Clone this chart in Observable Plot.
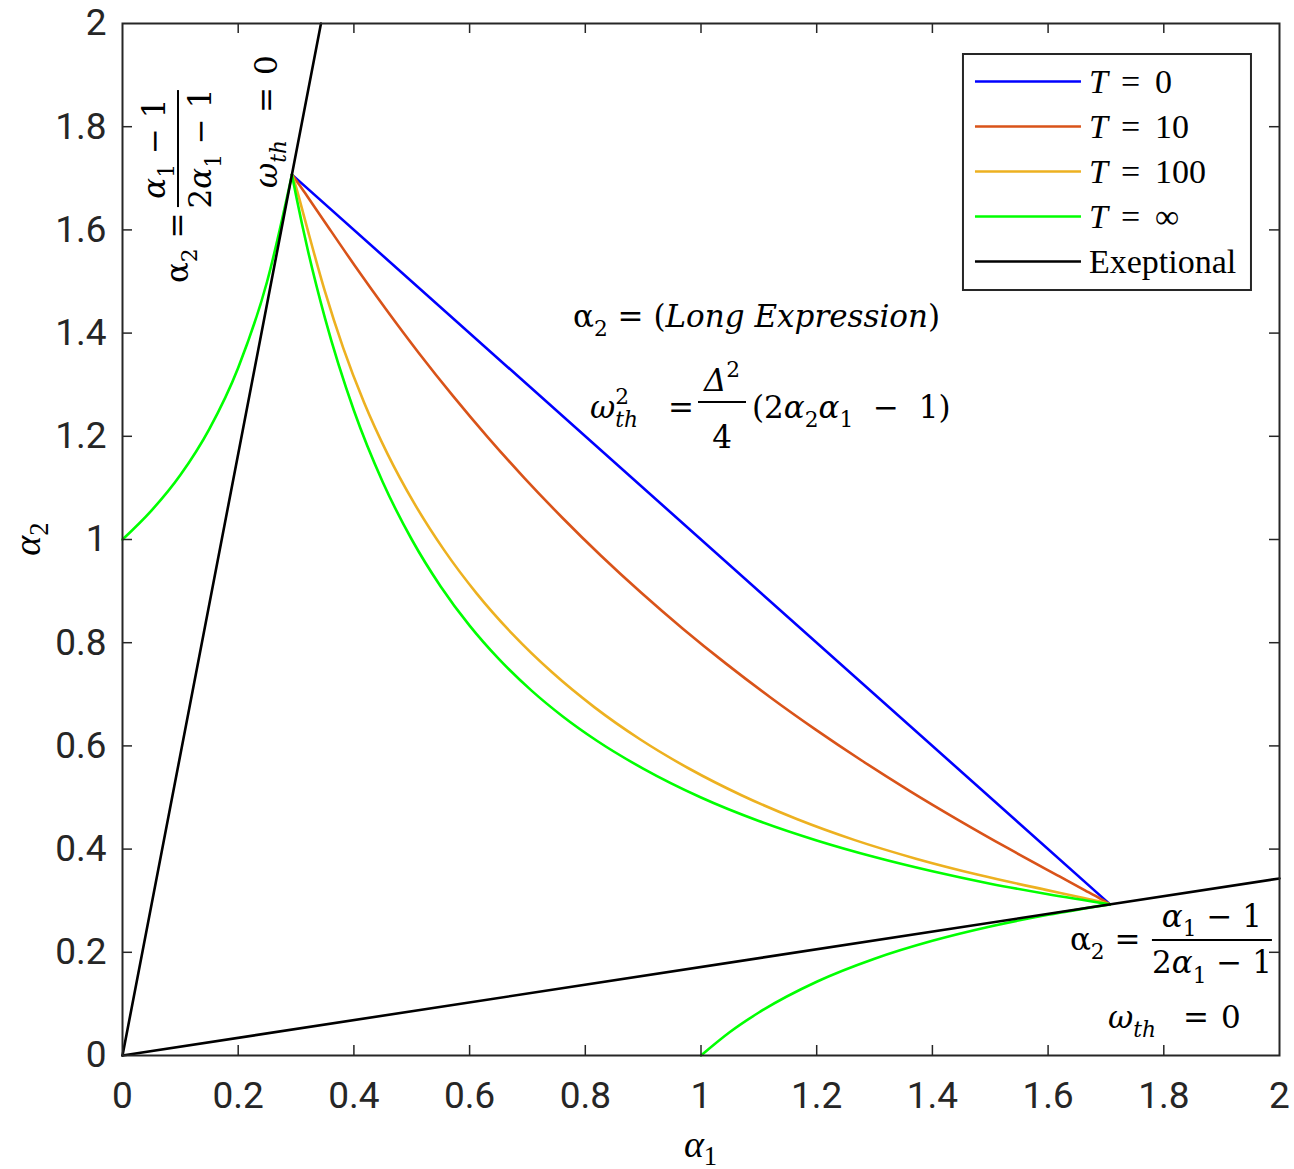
<!DOCTYPE html>
<html>
<head>
<meta charset="utf-8">
<script src="https://cdn.jsdelivr.net/npm/d3@7"></script>
<script src="https://cdn.jsdelivr.net/npm/@observablehq/plot@0.6"></script>
<style>
  body { margin: 0; background: #fff; }
  svg { display: block; }
</style>
</head>
<body>
<div id="chart"></div>
<script>
// ---- data: (α1, α2) samples of each boundary curve ----
const seriesNames  = ["T = 0", "T = 10", "T = 100", "T = ∞", "Exeptional"];
const seriesColors = ["#0000ff", "#d95319", "#edb120", "#00ff00", "#000000"];

const t0A1 = [0.2929, 1.7071];
const t0A2 = [1.7071, 0.2929];

const t10A1 = [0.2929, 0.3040, 0.3202, 0.3470, 0.4007, 0.4558, 0.5125, 0.5712, 0.6320, 0.6948, 0.7599, 0.8272, 0.8968,
               0.9686, 1.0427, 1.1190, 1.1976, 1.2784, 1.3611, 1.4458, 1.5321, 1.6198, 1.6638, 1.6900, 1.7071];
const t10A2 = [1.7071, 1.6900, 1.6638, 1.6198, 1.5321, 1.4458, 1.3611, 1.2784, 1.1976, 1.1190, 1.0427, 0.9686, 0.8968,
               0.8272, 0.7599, 0.6948, 0.6320, 0.5712, 0.5125, 0.4558, 0.4007, 0.3470, 0.3202, 0.3040, 0.2929];

const t100A1 = [0.2929, 0.2994, 0.3078, 0.3215, 0.3498, 0.3815, 0.4174, 0.4583, 0.5044, 0.5557, 0.6124, 0.6747, 0.7426,
                0.8161, 0.8952, 0.9799, 1.0700, 1.1655, 1.2660, 1.3715, 1.4812, 1.5943, 1.6514, 1.6854, 1.7071];
const t100A2 = [1.7071, 1.6854, 1.6514, 1.5943, 1.4812, 1.3715, 1.2660, 1.1655, 1.0700, 0.9799, 0.8952, 0.8161, 0.7426,
                0.6747, 0.6124, 0.5557, 0.5044, 0.4583, 0.4174, 0.3815, 0.3498, 0.3215, 0.3078, 0.2994, 0.2929];

const tInfA1 = [0.2929, 0.30, 0.31, 0.32, 0.35, 0.40, 0.45, 0.50, 0.55, 0.60, 0.65, 0.7071, 0.76, 0.82, 0.90,
                1.00, 1.10, 1.20, 1.30, 1.40, 1.50, 1.60, 1.7071];
const tInfA2 = [1.7071, 1.6667, 1.6129, 1.5625, 1.429, 1.25, 1.111, 1.0, 0.909, 0.833, 0.769, 0.7071, 0.658, 0.610, 0.556,
                0.50, 0.4545, 0.4167, 0.3846, 0.357, 0.333, 0.3125, 0.2929];

const tInfLeftA1 = [0, 0.05, 0.10, 0.15, 0.20, 0.25, 0.2929];
const tInfLeftA2 = [1, 1.056, 1.125, 1.214, 1.333, 1.50, 1.7071];

const tInfLowA1 = [1.0, 1.05, 1.10, 1.20, 1.30, 1.40, 1.50, 1.60, 1.7071];
const tInfLowA2 = [0, 0.0455, 0.0833, 0.1429, 0.1875, 0.2222, 0.25, 0.2727, 0.2929];

const excSteepA1 = [0, 0.3431];
const excSteepA2 = [0, 2];
const excFlatA1  = [0, 2];
const excFlatA2  = [0, 0.3431];

const xTicks = [0, 0.2, 0.4, 0.6, 0.8, 1, 1.2, 1.4, 1.6, 1.8, 2];
const yTicks = [0, 0.2, 0.4, 0.6, 0.8, 1, 1.2, 1.4, 1.6, 1.8, 2];
const legendValues = ["0", "10", "100", "∞"];

// ---- table for Plot ----
const parts = [
  ["T = 0", "t0", t0A1, t0A2],
  ["T = 10", "t10", t10A1, t10A2],
  ["T = 100", "t100", t100A1, t100A2],
  ["T = ∞", "tInf", tInfA1, tInfA2],
  ["T = ∞", "tInfLeft", tInfLeftA1, tInfLeftA2],
  ["T = ∞", "tInfLow", tInfLowA1, tInfLowA2],
  ["Exeptional", "excSteep", excSteepA1, excSteepA2],
  ["Exeptional", "excFlat", excFlatA1, excFlatA2]
];
const rows = parts.flatMap(([series, part, a1, a2]) =>
  a1.map((v, i) => ({series, part, a1: v, a2: a2[i]})));

const TEX = "'Liberation Serif', 'DejaVu Serif', serif";
const MATH = "'DejaVu Serif', 'Liberation Serif', serif";
const SANS = "Roboto, 'Liberation Sans', sans-serif";
const AX = "#262626";
const fmt = d => String(+d.toFixed(1));

const W = 1294, H = 1169, ML = 122, MR = 15, MT = 23, MB = 114;
const frameW = W - ML - MR, frameH = H - MT - MB, tickLen = 10;
const innerX = xTicks.slice(1, -1), innerY = yTicks.slice(1, -1);

const chart = Plot.plot({
  width: W, height: H,
  marginLeft: ML, marginRight: MR, marginTop: MT, marginBottom: MB,
  x: {domain: [0, 2]},
  y: {domain: [0, 2]},
  color: {domain: seriesNames, range: seriesColors},
  style: {fontFamily: SANS, fontSize: "37px", color: AX, background: "white", overflow: "visible"},
  marks: [
    Plot.line(rows, {x: "a1", y: "a2", z: "part", stroke: "series", strokeWidth: 2.6, curve: "monotone-x"}),
    // inward ticks on all four sides
    Plot.tickX(innerX, {x: d => d, insetTop: frameH - tickLen, stroke: AX, strokeWidth: 1.5}),
    Plot.tickX(innerX, {x: d => d, insetBottom: frameH - tickLen, stroke: AX, strokeWidth: 1.5}),
    Plot.tickY(innerY, {y: d => d, insetRight: frameW - tickLen, stroke: AX, strokeWidth: 1.5}),
    Plot.tickY(innerY, {y: d => d, insetLeft: frameW - tickLen, stroke: AX, strokeWidth: 1.5}),
    Plot.frame({stroke: AX, strokeWidth: 2}),
    Plot.axisX(xTicks, {tickSize: 0, tickPadding: 26, tickFormat: fmt, label: null, fill: AX}),
    Plot.axisY(yTicks, {tickSize: 0, tickPadding: 16, tickFormat: fmt, label: null, fill: AX})
  ]
});
document.getElementById("chart").append(chart);

const sx = chart.scale("x"), sy = chart.scale("y");
const px = v => sx.apply(v), py = v => sy.apply(v);
const svg = d3.select(chart);

// rich text with italic / sub / superscript runs
function rich(parent, x, y, segs, fs, {anchor = "start", family = MATH, sub = 0.3, sup = 0.45} = {}) {
  const t = parent.append("text")
    .attr("x", x).attr("y", y)
    .attr("text-anchor", anchor)
    .attr("font-family", family)
    .attr("font-size", fs)
    .attr("fill", "#000")
    .style("white-space", "pre");
  let level = 0;
  for (const s of segs) {
    const target = s.sub ? sub * fs : s.sup ? -sup * fs : 0;
    const sp = t.append("tspan")
      .attr("dy", target - level)
      .attr("font-size", s.sub || s.sup ? 0.7 * fs : fs)
      .attr("font-style", s.i ? "italic" : "normal")
      .text(s.t);
    if (s.dx) sp.attr("dx", s.dx);
    level = target;
  }
  return t;
}

// α2 = (α1 − 1)/(2α1 − 1), laid out along local x with the bar on local y = 0
function ratioEq(g, fs, barStart, barW) {
  rich(g, 0, 0.32 * fs, [{t: "α"}, {t: "2", sub: true}, {t: " ="}], fs);
  const cx = barStart + barW / 2;
  rich(g, cx, -0.42 * fs, [{t: "α", i: true}, {t: "1", sub: true}, {t: " − 1"}], fs, {anchor: "middle"});
  rich(g, cx, 1.08 * fs, [{t: "2"}, {t: "α", i: true}, {t: "1", sub: true}, {t: " − 1"}], fs, {anchor: "middle"});
  g.append("line").attr("x1", barStart).attr("x2", barStart + barW)
    .attr("y1", 0).attr("y2", 0).attr("stroke", "#000").attr("stroke-width", 2);
}
function omegaZero(g, fs) {
  rich(g, 0, 0, [{t: "ω", i: true}, {t: "th", i: true, sub: true}], fs);
  rich(g, 75, 0, [{t: "="}], fs);
  rich(g, 113, 0, [{t: "0"}], fs);
}

const FS = 31;
const notes = svg.append("g");

// left edge (steep line), rotated
ratioEq(notes.append("g").attr("transform", `translate(${px(0.0968)},${py(1.496)}) rotate(-90)`), FS, 76, 117);
omegaZero(notes.append("g").attr("transform", `translate(${px(0.268)},${py(1.680)}) rotate(-90)`), FS);

// lower edge (flat line)
ratioEq(notes.append("g").attr("transform", `translate(${px(1.6386)},${py(0.2229)})`), FS, 82, 120);
omegaZero(notes.append("g").attr("transform", `translate(${px(1.7044)},${py(0.0523)})`), FS);

// interior curves
{
  const g = notes.append("g").attr("transform", `translate(${px(0.7796)},${py(1.411)})`);
  rich(g, 0, 0, [{t: "α"}, {t: "2", sub: true}, {t: " = ("}, {t: "Long Expression", i: true}, {t: ")"}], FS);
}
{
  const g = notes.append("g").attr("transform", `translate(${px(0.809)},${py(1.2345)})`);
  rich(g, 0, 0, [{t: "ω", i: true}, {t: "2", sup: true}, {t: "th", i: true, sub: true, dx: -0.7 * FS * 0.64}], FS);
  rich(g, 78, 0, [{t: "="}], FS);
  const cx = 132;
  rich(g, cx, -27, [{t: "Δ", i: true}, {t: "2", sup: true}], FS, {anchor: "middle"});
  rich(g, cx, 30, [{t: "4"}], FS, {anchor: "middle"});
  g.append("line").attr("x1", cx - 24).attr("x2", cx + 24).attr("y1", -16).attr("y2", -16)
    .attr("stroke", "#000").attr("stroke-width", 2);
  rich(g, 162, 0, [{t: "(2"}, {t: "α", i: true}, {t: "2", sub: true}, {t: "α", i: true}, {t: "1", sub: true}, {t: "  −  1)"}], FS);
}

// axis labels
rich(svg, px(1), 1157, [{t: "α", i: true}, {t: "1", sub: true}], 38, {anchor: "middle", family: TEX, sub: 0.2});
rich(svg.append("g").attr("transform", `translate(40,${py(1)}) rotate(-90)`), 0, 0,
     [{t: "α", i: true}, {t: "2", sub: true}], 38, {anchor: "middle", family: TEX, sub: 0.2});

// legend
{
  const g = svg.append("g");
  const x0 = px(1.4537), y0 = py(1.9399);
  g.append("rect").attr("x", x0).attr("y", y0).attr("width", 288).attr("height", 236)
    .attr("fill", "#fff").attr("stroke", AX).attr("stroke-width", 2);
  seriesNames.forEach((name, i) => {
    const y = y0 + 27.5 + 45 * i;
    g.append("line").attr("x1", x0 + 12).attr("x2", x0 + 118).attr("y1", y).attr("y2", y)
      .attr("stroke", seriesColors[i]).attr("stroke-width", 2.6);
    const o = {family: TEX};
    if (i < legendValues.length) {
      rich(g, x0 + 126, y + 11, [{t: "T", i: true}], 34, o);
      rich(g, x0 + 158, y + 11, [{t: "="}], 34, o);
      rich(g, x0 + 192, y + 11, [{t: legendValues[i]}], 34, o);
    } else {
      rich(g, x0 + 126, y + 11, [{t: name}], 34, o);
    }
  });
}
</script>
</body>
</html>
